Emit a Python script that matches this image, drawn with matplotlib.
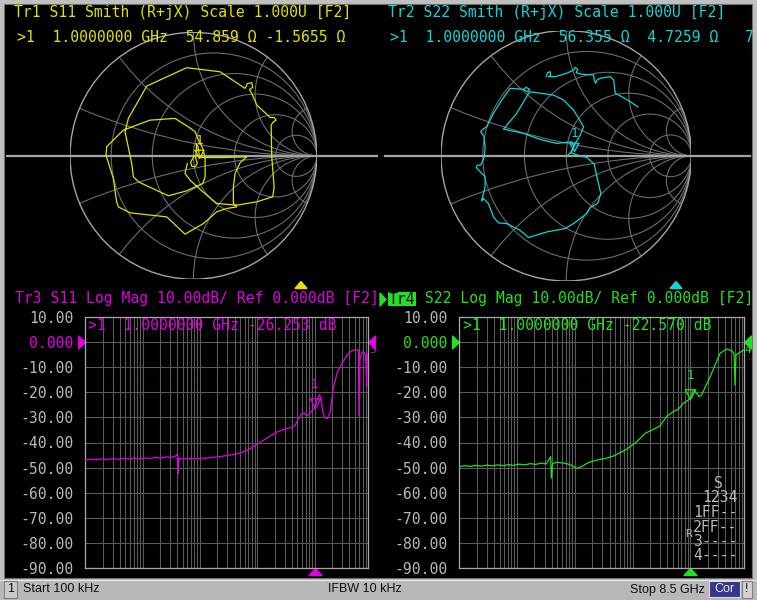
import numpy as np
import matplotlib
matplotlib.use("Agg")
import matplotlib.pyplot as plt
from matplotlib.path import Path
from matplotlib.patches import Circle, Rectangle, Polygon
from matplotlib.ticker import LogLocator, NullFormatter

plt.rcParams["font.family"] = ["DejaVu Sans Mono", "DejaVu Sans"]

W, H = 757, 600
FRAME = "#c0c0c0"
STATUS_BG = "#b8b8b8"
GRID = "#5a5a5a"
BOX = "#a8a8a8"
SMITH_GRID = "#6c6c6c"
SMITH_EDGE = "#a4a4a4"
AXIS_TEXT = "#b8b8b8"
YELLOW = "#e2e200"
CYAN = "#12d6d6"
MAGENTA = "#e000e0"
GREEN = "#22e022"
FS = 10.6

# ---------------- data ----------------
START_HZ, STOP_HZ = 1e5, 8.5e9
MARKER_HZ = 1e9
Z0 = 50.0
REF_DB, DB_PER_DIV, N_DIV, REF_POS = 0.0, 10.0, 10, 9

s11_marker_r, s11_marker_x, s11_marker_db = 54.859, -1.5655, -26.253
s22_marker_r, s22_marker_x, s22_marker_db = 56.355, 4.7259, -22.570

R_CIRCLES = [0.2, 0.5, 1.0, 2.0, 5.0]
X_ARCS = [0.2, 0.5, 1.0, 2.0, 5.0]

s11_freq_hz = [1.00e5, 1.25e5, 1.55e5, 1.90e5, 2.40e5, 3.00e5, 3.70e5, 4.60e5, 5.70e5,
               7.00e5, 8.70e5, 1.08e6, 1.35e6, 1.70e6, 2.10e6, 2.60e6, 3.20e6, 3.81e6,
               4.07e6, 4.20e6, 4.30e6, 5.20e6, 6.50e6, 8.00e6, 1.00e7, 1.30e7, 1.71e7,
               2.20e7, 2.92e7, 3.80e7, 4.98e7, 6.96e7, 9.73e7, 1.45e8, 2.17e8, 3.04e8,
               3.96e8, 4.53e8, 5.19e8, 5.93e8, 6.51e8, 7.24e8, 8.06e8, 9.00e8, 1.00e9,
               1.11e9, 1.21e9, 1.29e9, 1.38e9, 1.49e9, 1.66e9, 1.85e9, 2.11e9, 2.48e9,
               2.95e9, 3.61e9, 4.41e9, 5.39e9, 5.77e9, 5.92e9, 6.16e9, 6.86e9, 7.53e9,
               7.84e9, 8.05e9, 8.27e9, 8.50e9]
s11_db = [-47.0, -46.6, -46.9, -46.5, -46.8, -46.4, -46.7, -46.3, -46.6,
          -46.2, -46.5, -46.1, -46.4, -45.9, -46.2, -45.7, -45.9, -45.3,
          -44.5, -52.3, -46.3, -46.6, -46.3, -46.5, -46.3, -46.2, -45.9,
          -45.6, -45.2, -44.8, -44.2, -42.9, -40.8, -38.3, -35.9, -34.6,
          -34.0, -33.3, -30.5, -28.6, -28.2, -29.5, -28.6, -27.3, -26.25,
          -23.0, -21.0, -22.5, -27.5, -30.2, -30.5, -28.0, -18.5, -12.0,
          -8.8, -5.5, -3.6, -3.1, -3.3, -29.5, -6.5, -3.9, -4.5,
          -9.0, -18.0, -6.0, -4.5]

s22_freq_hz = [1.00e5, 1.25e5, 1.55e5, 1.90e5, 2.40e5, 3.00e5, 3.70e5, 4.60e5, 5.70e5,
               7.00e5, 8.70e5, 1.08e6, 1.35e6, 1.70e6, 2.10e6, 2.60e6, 3.20e6, 3.82e6,
               3.92e6, 4.13e6, 5.00e6, 5.92e6, 7.00e6, 8.25e6, 1.08e7, 1.31e7, 1.71e7,
               2.39e7, 3.30e7, 4.65e7, 7.91e7, 1.18e8, 1.64e8, 2.29e8, 2.98e8, 3.89e8,
               5.08e8, 6.20e8, 7.57e8, 1.00e9, 1.13e9, 1.29e9, 1.43e9, 1.57e9, 1.80e9,
               2.19e9, 2.68e9, 3.27e9, 4.26e9, 5.20e9, 5.71e9, 5.94e9, 6.18e9, 7.25e9,
               8.50e9]
s22_db = [-49.6, -49.2, -49.5, -49.1, -49.4, -49.0, -49.3, -48.9, -49.2,
          -48.8, -49.1, -48.6, -48.9, -48.4, -48.7, -48.2, -48.5, -45.6,
          -54.2, -48.3, -47.9, -48.1, -48.3, -48.8, -50.3, -49.6, -48.0,
          -47.0, -46.4, -45.4, -42.7, -39.7, -36.4, -34.8, -33.4, -29.7,
          -27.7, -26.8, -24.4, -22.57, -19.1, -20.5, -21.8, -21.1, -18.1,
          -14.1, -9.2, -4.6, -2.8, -3.5, -4.6, -17.2, -5.2, -4.2,
          -3.2]

s11_gamma_re = [0.005, -0.005, -0.022, -0.014, 0.014, 0.032, 0.022, 0.016,
                0.027, 0.022, 0.038, 0.049, 0.081, 0.243, 0.432,
                0.378, 0.338, 0.324, 0.324, 0.351,
                0.270, 0.189, 0.081, -0.068, -0.216, -0.514, -0.608,
                -0.622, -0.649, -0.708, -0.703, -0.568,
                -0.351, -0.149, -0.041, 0.014, 0.041, 0.076, 0.095, 0.095, 0.076, -0.054,
                -0.203, -0.446, -0.486, -0.500, -0.554, -0.527, -0.378, -0.054, 0.216, 0.419,
                0.438, 0.473, 0.481, 0.454, 0.473, 0.514, 0.622, 0.654, 0.670, 0.649, 0.630,
                0.635, 0.654, 0.643, 0.514, 0.351, 0.189, 0.068, -0.027, -0.068, -0.049]
s11_gamma_im = [0.000, -0.022, -0.049, -0.084, -0.089, -0.062, -0.030, -0.008,
                0.046, 0.100, 0.073, -0.014, -0.014, -0.014, -0.008,
                -0.057, -0.143, -0.251, -0.386, -0.414,
                -0.427, -0.454, -0.549, -0.635, -0.495, -0.462, -0.414,
                -0.373, -0.184, 0.005, 0.073, 0.208,
                0.289, 0.303, 0.235, 0.195, 0.127, 0.059, -0.022, -0.170, -0.224, -0.284,
                -0.324, -0.211, -0.170, -0.062, 0.195, 0.303, 0.565, 0.714, 0.681, 0.546,
                0.586, 0.592, 0.554, 0.538, 0.505, 0.411, 0.311, 0.311, 0.289, 0.276, 0.249,
                -0.008, -0.251, -0.332, -0.373, -0.400, -0.386, -0.284, -0.197, -0.143, -0.062]

NAN = float("nan")
s22_gamma_re = [0.005, 0.032, 0.053, 0.059, 0.045, -0.075, -0.208, -0.341, -0.501, -0.395,
                -0.293, -0.101, -0.021, 0.059, 0.139, 0.112, 0.072, 0.059, 0.037, 0.072,
                0.099, 0.165, 0.224, 0.245, 0.277, 0.251, 0.192, 0.165, 0.059, -0.008,
                -0.155, -0.301, -0.368, -0.475, -0.541, -0.581, -0.621, -0.661, -0.677, -0.667,
                -0.648, -0.648, -0.693, -0.720, -0.709, -0.683, -0.653, -0.648, -0.656, -0.683,
                -0.667, -0.635, -0.581, -0.515, -0.448, -0.341, -0.320, -0.293, -0.309, -0.336,
                NAN,
                -0.160, -0.149, -0.128, -0.123, -0.141, -0.088, 0.005, 0.059, 0.072, 0.091,
                0.080, 0.112, 0.219, 0.224, 0.235, 0.245, 0.272, 0.352, 0.379, 0.392,
                0.445, 0.512, 0.571]
s22_gamma_im = [-0.003, 0.024, 0.051, 0.085, 0.112, 0.099, 0.131, 0.179, 0.213, 0.339,
                0.512, 0.485, 0.445, 0.365, 0.232, 0.165, 0.099, 0.067, 0.024, 0.013,
                0.003, -0.013, -0.067, -0.168, -0.301, -0.381, -0.413, -0.461, -0.541, -0.581,
                -0.608, -0.653, -0.595, -0.541, -0.536, -0.488, -0.381, -0.341, -0.360, -0.328,
                -0.248, -0.168, -0.120, -0.093, -0.075, -0.075, -0.008, 0.072, 0.152, 0.192,
                0.211, 0.232, 0.339, 0.445, 0.539, 0.531, 0.547, 0.531, 0.512, 0.525,
                NAN,
                0.632, 0.664, 0.672, 0.645, 0.632, 0.632, 0.659, 0.685, 0.707, 0.691,
                0.664, 0.653, 0.645, 0.605, 0.579, 0.605, 0.619, 0.632, 0.605, 0.499,
                0.472, 0.432, 0.392]

# ---------------- layout (pixels, origin top-left) ----------------
SMITH_L = (193.4, 155.8, 123.4)
SMITH_R = (566.2, 155.8, 125.2)
LOG_L = (85.3, 316.7, 368.0, 568.3)
LOG_R = (459.3, 316.7, 744.0, 568.3)

TRI_DOWN = Path([(0, 0), (-0.55, 1), (0.55, 1), (0, 0)])
TRI_UP_BELOW = Path([(0, 0), (-0.93, -1), (0.93, -1), (0, 0)])
TRI_RIGHT = Path([(0, 0), (-1, 0.93), (-1, -0.93), (0, 0)])
TRI_LEFT = Path([(0, 0), (1, 0.93), (1, -0.93), (0, 0)])


def fig_rect(x0, y0, x1, y1):
    return [x0 / W, 1 - y1 / H, (x1 - x0) / W, (y1 - y0) / H]


fig = plt.figure(figsize=(W / 100, H / 100), dpi=100)
fig.patch.set_facecolor(FRAME)

bg = fig.add_axes([0, 0, 1, 1], zorder=0)
bg.set_xlim(0, W)
bg.set_ylim(H, 0)
bg.axis("off")
bg.add_patch(Rectangle((4, 4), 748, 574, facecolor="black", edgecolor="#707070", lw=0.8))
bg.add_patch(Rectangle((0, 579), W, 21, facecolor=STATUS_BG, edgecolor="none"))
bg.plot([0, W], [579.5, 579.5], color="#e8e8e8", lw=0.8)

fg = fig.add_axes([0, 0, 1, 1], zorder=5)
fg.set_xlim(0, W)
fg.set_ylim(H, 0)
fg.axis("off")


def txt(x, y, s, color, size=FS, ha="left", family=None, **kw):
    fam = family if family else ["DejaVu Sans Mono", "DejaVu Sans"]
    fg.text(x, y, s, color=color, fontsize=size, ha=ha, va="center", family=fam, **kw)


def smith_panel(geom, re, im, color, r_ohm, x_ohm, line_x):
    cx, cy, rad = geom
    ax = fig.add_axes(fig_rect(cx - rad, cy - rad, cx + rad, cy + rad), zorder=2)
    ax.set_xlim(-1, 1)
    ax.set_ylim(-1, 1)
    ax.axis("off")
    clip = Circle((0, 0), 1, transform=ax.transData)
    for r in R_CIRCLES:
        ax.add_patch(Circle((r / (1 + r), 0), 1 / (1 + r), fill=False, ec=SMITH_GRID, lw=0.8))
    for x in X_ARCS:
        for sgn in (1, -1):
            arc = Circle((1, sgn / x), 1 / x, fill=False, ec=SMITH_GRID, lw=0.8)
            ax.add_patch(arc)
            arc.set_clip_path(clip)
    ax.add_patch(Circle((0, 0), 1, fill=False, ec=SMITH_EDGE, lw=1.0))
    ax.plot([(line_x[0] - cx) / rad, (line_x[1] - cx) / rad], [0, 0],
            color=SMITH_EDGE, lw=1.6, clip_on=False)
    ax.plot(re, im, color=color, lw=0.9, clip_on=False)
    z = complex(r_ohm, x_ohm)
    g = (z - Z0) / (z + Z0)
    ax.plot([g.real], [g.imag], marker=TRI_DOWN, ms=12, mfc="none", mec=color, mew=0.9,
            ls="none", clip_on=False)
    ax.annotate("1", (g.real, g.imag), xytext=(0, 12), textcoords="offset points",
                ha="center", va="center", color=color, fontsize=9)
    return ax


def log_panel(rect, freq, db, color, mk_db, tr_num):
    ax = fig.add_axes(fig_rect(*rect), zorder=2)
    ax.set_facecolor("none")
    ax.set_xscale("log")
    ax.set_xlim(START_HZ, STOP_HZ)
    ylo = REF_DB - REF_POS * DB_PER_DIV
    yhi = REF_DB + (N_DIV - REF_POS) * DB_PER_DIV
    ax.set_ylim(ylo, yhi)
    ax.xaxis.set_major_locator(LogLocator(base=10, numticks=30))
    ax.xaxis.set_minor_locator(LogLocator(base=10, subs=np.arange(2, 10), numticks=30))
    ax.xaxis.set_minor_formatter(NullFormatter())
    ax.tick_params(axis="x", which="both", length=0, labelbottom=False)
    yt = np.arange(ylo, yhi + 1, DB_PER_DIV)
    ax.set_yticks(yt)
    ax.set_yticklabels(["0.000" if v == 0 else f"{v:.2f}" for v in yt])
    ax.tick_params(axis="y", length=0, pad=8.4, labelsize=FS, labelcolor=AXIS_TEXT)
    for v, lab in zip(yt, ax.get_yticklabels()):
        if v == REF_DB:
            lab.set_color(color)
    ax.grid(True, which="both", axis="x", color=GRID, lw=0.8)
    ax.grid(True, which="major", axis="y", color=GRID, lw=0.8)
    for s in ax.spines.values():
        s.set_color(BOX)
        s.set_linewidth(0.9)
    ax.plot(freq, db, color=color, lw=0.9, zorder=3)

    # marker 1
    ax.plot([MARKER_HZ], [mk_db], marker=TRI_DOWN, ms=14, mfc="none", mec=color, mew=0.9,
            ls="none", zorder=4)
    ax.annotate("1", (MARKER_HZ, mk_db), xytext=(0, 17), textcoords="offset points",
                ha="center", va="center", color=color, fontsize=9)
    # stimulus marker position below the grid
    ax.plot([MARKER_HZ], [ylo], marker=TRI_UP_BELOW, ms=10, color=color, ls="none",
            clip_on=False)
    # reference level arrows
    ax.plot([START_HZ], [REF_DB], marker=TRI_RIGHT, ms=10, color=color, ls="none", clip_on=False)
    ax.plot([STOP_HZ], [REF_DB], marker=TRI_LEFT, ms=10, color=color, ls="none", clip_on=False)
    ax.annotate(str(tr_num), (STOP_HZ, REF_DB), xytext=(3, -6), textcoords="offset points",
                ha="center", va="center", color=color, fontsize=8)
    return ax


smith_panel(SMITH_L, s11_gamma_re, s11_gamma_im, YELLOW, s11_marker_r, s11_marker_x, (7, 377))
smith_panel(SMITH_R, s22_gamma_re, s22_gamma_im, CYAN, s22_marker_r, s22_marker_x, (385, 750))
log_panel(LOG_L, s11_freq_hz, s11_db, MAGENTA, s11_marker_db, 3)
log_panel(LOG_R, s22_freq_hz, s22_db, GREEN, s22_marker_db, 4)

# ---------------- header texts ----------------
txt(14, 13, "Tr1 S11 Smith (R+jX) Scale 1.000U [F2]", YELLOW)
txt(17, 38, ">1  1.0000000 GHz  %.3f Ω %.4f Ω" % (s11_marker_r, s11_marker_x), YELLOW)
txt(388, 13, "Tr2 S22 Smith (R+jX) Scale 1.000U [F2]", CYAN)
txt(390, 38, ">1  1.0000000 GHz  %.3f Ω  %.4f Ω   7" % (s22_marker_r, s22_marker_x), CYAN)

txt(15, 299, "Tr3 S11 Log Mag 10.00dB/ Ref 0.000dB [F2]", MAGENTA)
fg.add_patch(Polygon([(380, 293), (380, 306), (386, 299.5)], closed=True, color=GREEN))
fg.add_patch(Rectangle((388, 292), 28, 14, facecolor=GREEN, edgecolor="none"))
txt(389, 299, "Tr4", "#000000")
txt(416, 299, " S22 Log Mag 10.00dB/ Ref 0.000dB [F2]", GREEN)

txt(88, 325, ">1  1.0000000 GHz %.3f dB" % s11_marker_db, MAGENTA)
txt(463, 325, ">1  1.0000000 GHz %.3f dB" % s22_marker_db, GREEN)

# stimulus markers above the Smith panels
fg.add_patch(Polygon([(295, 288.5), (307, 288.5), (301, 281.5)], closed=True, color=YELLOW))
fg.add_patch(Polygon([(670, 288.5), (682, 288.5), (676, 281.5)], closed=True, color=CYAN))

# port status table
txt(718, 483, "S", AXIS_TEXT, ha="center")
txt(702, 498, "1234", AXIS_TEXT)
txt(693, 512.5, "1FF--", AXIS_TEXT)
txt(693, 527, "2FF--", AXIS_TEXT)
txt(693, 541.5, "3----", AXIS_TEXT)
txt(693, 556, "4----", AXIS_TEXT)
txt(685, 534, "R", AXIS_TEXT, size=8)

# ---------------- status bar ----------------
SANS = ["Liberation Sans", "DejaVu Sans"]
fg.add_patch(Rectangle((4, 581), 13, 17, facecolor="#cacaca", edgecolor="#808080", lw=0.8))
txt(10.5, 589.5, "1", "#101010", size=9, ha="center", family=SANS)
txt(23, 589.5, "Start 100 kHz", "#101010", size=9, family=SANS)
txt(365, 589.5, "IFBW 10 kHz", "#101010", size=9, ha="center", family=SANS)
txt(705, 589.5, "Stop 8.5 GHz", "#101010", size=9, ha="right", family=SANS)
fg.add_patch(Rectangle((709, 581), 31, 16, facecolor="#36368a", edgecolor="#d8d8d8", lw=0.8))
txt(724.5, 589.5, "Cor", "#e8e8f4", size=9, ha="center", family=SANS)
fg.add_patch(Rectangle((742, 581), 10, 17, facecolor="#d2d2d2", edgecolor="#808080", lw=0.8))
txt(747, 589.5, "!", "#101010", size=9, ha="center", family=SANS)

fig.savefig("out.png", dpi=100, facecolor=FRAME)
